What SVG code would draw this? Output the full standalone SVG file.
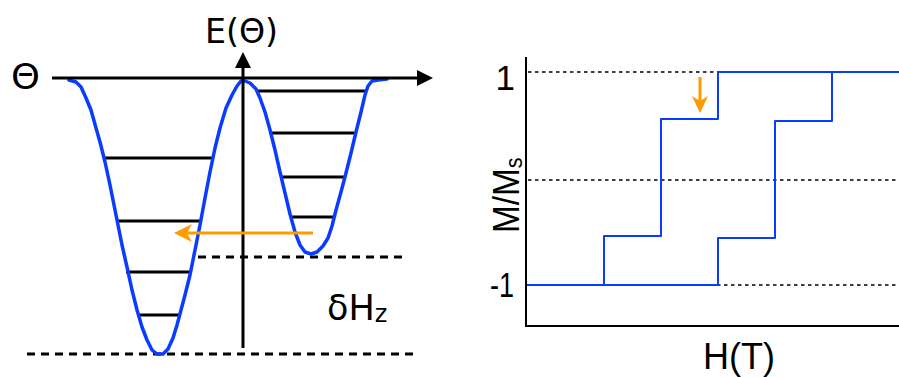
<svg xmlns="http://www.w3.org/2000/svg" width="899" height="377" viewBox="0 0 899 377">
<style>
text{font-family:"DejaVu Sans","Liberation Sans",sans-serif;fill:#000}
text.ar{font-family:"Liberation Sans",Arial,sans-serif}
.lvl{stroke:#000;stroke-width:3;fill:none}
.dash{stroke:#000;stroke-width:3;stroke-dasharray:8 6;fill:none}
.dot{stroke:#000;stroke-width:1.5;stroke-dasharray:3.5 3.5;fill:none}
.axis{stroke:#000;stroke-width:3;fill:none}
.blue{stroke:#0a3cff;fill:none;stroke-linejoin:round;stroke-linecap:round}
.orange{stroke:#ff9a00;stroke-width:3;fill:none}
</style>
<rect width="899" height="377" fill="#fff"/>
<g id="left-panel">
  <g id="energy-levels">
    <line class="lvl" x1="103" y1="158" x2="212" y2="158"/>
    <line class="lvl" x1="117" y1="221" x2="200" y2="221"/>
    <line class="lvl" x1="126" y1="272" x2="191" y2="272"/>
    <line class="lvl" x1="137" y1="315" x2="181" y2="315"/>
    <line class="lvl" x1="257" y1="91" x2="367" y2="91"/>
    <line class="lvl" x1="272" y1="133" x2="355" y2="133"/>
    <line class="lvl" x1="282" y1="177" x2="346" y2="177"/>
    <line class="lvl" x1="292" y1="217" x2="334" y2="217"/>
  </g>
  <g id="dashed-lines">
    <line class="dash" x1="198" y1="257" x2="403" y2="257"/>
    <line class="dash" x1="27" y1="354" x2="413" y2="354"/>
  </g>
  <g id="potential-curve">
    <polyline class="blue" stroke-width="3.5" points="69,80 76,82 81,87 86,98 91,110 96,128 100,142 105,162 110,185 114,205 118,225 122,245 127,267 132,290 137,310 142,327 147,340 152,350 157,354 163,354 168,349 173,338 177,325 181,310 185,295 190,275 195,250 200,225 205,198 210,172 215,148 220,128 226,108 232,95 237,86 241,81 245,81 250,83 256,89 260,98 265,112 270,130 275,150 280,172 285,193 290,214 295,232 300,245 305,252 311,254 317,252 323,246 328,238 332,226 336,210 341,192 346,173 351,153 356,132 361,112 365,95 368,86 372,81 378,80 387,79"/>
  </g>
  <g id="axes-left">
    <line class="axis" x1="52" y1="78" x2="420" y2="78"/>
    <polygon points="433,78 417,70 417,86" fill="#000"/>
    <line class="axis" x1="243" y1="348" x2="243" y2="66"/>
    <polygon points="243,52 235,68 251,68" fill="#000"/>
  </g>
  <g id="orange-arrow-left">
    <line class="orange" x1="313" y1="233" x2="186" y2="233"/>
    <path d="M174,233 L192,224 L187,233 L192,242 Z" fill="#ff9a00"/>
  </g>
  <text x="11" y="89" font-size="35" textLength="29" lengthAdjust="spacingAndGlyphs">Θ</text>
  <text x="205" y="43" font-size="33" textLength="73" lengthAdjust="spacingAndGlyphs">E(Θ)</text>
  <text x="327" y="320" font-size="35">δH<tspan font-size="24" dy="2">z</tspan></text>
</g>
<g id="right-panel">
  <g id="dotted-lines">
    <line class="dot" x1="528" y1="72" x2="899" y2="72"/>
    <line class="dot" x1="528" y1="180" x2="899" y2="180"/>
    <line class="dot" x1="528" y1="285" x2="899" y2="285"/>
  </g>
  <g id="hysteresis">
    <polyline class="blue" stroke-width="2" points="527,285 604,285 604,236 661,236 661,119 718,119 718,72 899,72"/>
    <polyline class="blue" stroke-width="2" points="527,285 718,285 718,238 775,238 775,121 832,121 832,72"/>
  </g>
  <g id="axes-right">
    <polyline points="526,57 526,326 899,326" stroke="#000" stroke-width="2" fill="none"/>
  </g>
  <g id="orange-arrow-right">
    <line class="orange" x1="700" y1="77" x2="700" y2="102"/>
    <path d="M700,113 L692,96 L700,101 L708,96 Z" fill="#ff9a00"/>
  </g>
  <text class="ar" x="515" y="90" font-size="35" text-anchor="end">1</text>
  <text class="ar" x="490" y="297" font-size="35" textLength="24" lengthAdjust="spacingAndGlyphs">-1</text>
  <text class="ar" transform="translate(519,233) rotate(-90) scale(0.9,1)" font-size="37">M/M<tspan font-size="24" dy="3">s</tspan></text>
  <text class="ar" x="739" y="369" font-size="36" text-anchor="middle">H(T)</text>
</g>
</svg>
